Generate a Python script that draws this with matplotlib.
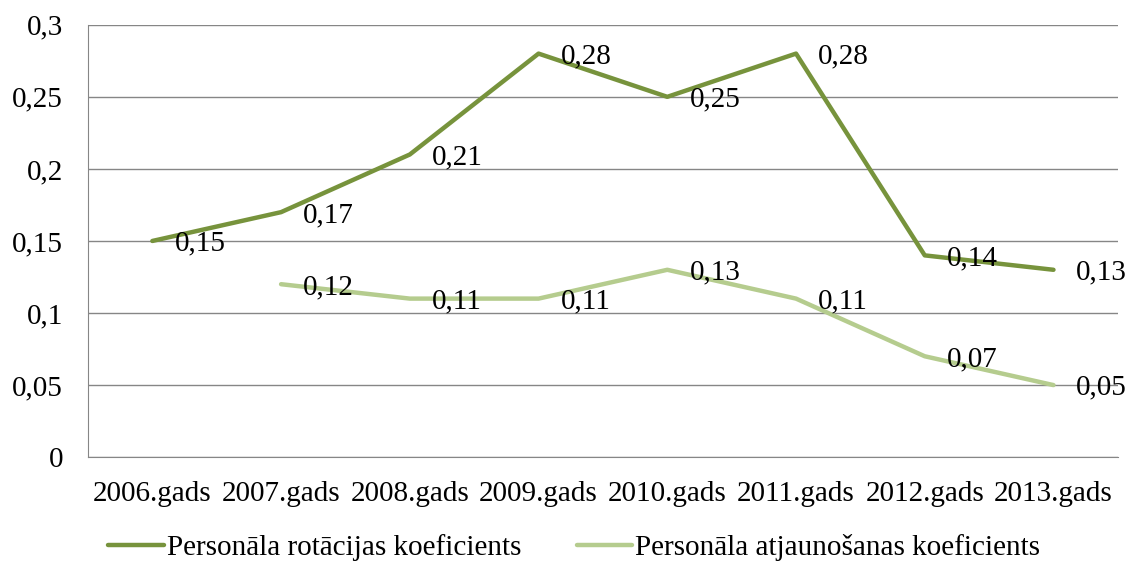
import numpy as np
import matplotlib.pyplot as plt

years = ["2006.gads", "2007.gads", "2008.gads", "2009.gads",
         "2010.gads", "2011.gads", "2012.gads", "2013.gads"]
rotacija = [0.15, 0.17, 0.21, 0.28, 0.25, 0.28, 0.14, 0.13]
atjaunosana = [np.nan, 0.12, 0.11, 0.11, 0.13, 0.11, 0.07, 0.05]
yticks = [0, 0.05, 0.1, 0.15, 0.2, 0.25, 0.3]

plt.rcParams["font.family"] = ["Liberation Serif", "DejaVu Serif"]
FS = 21

fig = plt.figure(figsize=(11.28, 5.63), dpi=100)
ax = fig.add_axes([0.078, 0.188, 0.913, 0.768])

x = np.arange(len(years))
series = [
    (rotacija, "#77933C", "Personāla rotācijas koeficients"),
    (atjaunosana, "#B5CC8E", "Personāla atjaunošanas koeficients"),
]
for vals, col, lab in series:
    ax.plot(x, vals, color=col, lw=3.2, label=lab, solid_capstyle="round", zorder=3)
    for xi, v in zip(x, vals):
        if np.isnan(v):
            continue
        ax.annotate(f"{v:g}".replace(".", ","), (xi, v), xytext=(16, -2),
                    textcoords="offset points", ha="left", va="center",
                    fontsize=FS, zorder=4)

ax.set_xlim(-0.5, len(years) - 0.5)
ax.set_ylim(0, 0.3)
ax.set_yticks(yticks)
ax.set_yticklabels([f"{t:g}".replace(".", ",") for t in yticks], fontsize=FS)
ax.set_xticks(x)
ax.set_xticklabels(years, fontsize=FS)
ax.tick_params(axis="y", length=0, pad=18)
ax.tick_params(axis="x", length=0, pad=17)
ax.grid(axis="y", color="#868686", lw=1)
ax.set_axisbelow(True)
for s in ["top", "right"]:
    ax.spines[s].set_visible(False)
for s in ["left", "bottom"]:
    ax.spines[s].set_color("#868686")

ax.legend(loc="center", bbox_to_anchor=(0.509, 0.027), bbox_transform=fig.transFigure,
          ncol=2, frameon=False, fontsize=FS, handlelength=1.9,
          handletextpad=0.1, columnspacing=1.9)

fig.savefig("out.png", dpi=100)
